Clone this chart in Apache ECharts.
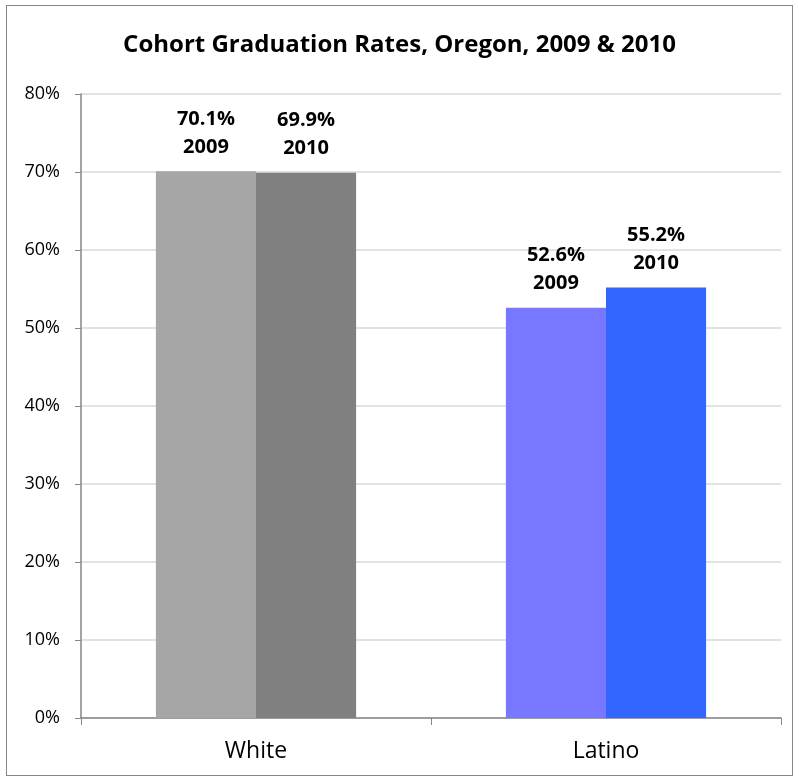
<!DOCTYPE html>
<html><head><meta charset="utf-8">
<script src="https://cdn.jsdelivr.net/npm/echarts@6/dist/echarts.min.js"></script>
<style>
html,body{margin:0;padding:0;background:#fff;}
#frame{position:absolute;left:6px;top:5px;width:787px;height:771px;border:1px solid #868686;box-sizing:border-box;}
#c{position:absolute;left:0;top:0;width:799px;height:782px;}
</style></head>
<body><div id="frame"></div><div id="c"></div>
<script>
const categories = ['White', 'Latino'];
const seriesNames = ['2009', '2010'];
const values2009 = [70.1, 52.6];
const values2010 = [69.9, 55.2];
const colors2009 = ['#A6A6A6', '#7777FF'];
const colors2010 = ['#808080', '#3366FF'];
const titleText = 'Cohort Graduation Rates, Oregon, 2009 & 2010';

const font = '"Open Sans", "Liberation Sans", sans-serif';
const chart = echarts.init(document.getElementById('c'));
function mk(name, vals, cols) {
  return {
    name: name, type: 'bar', barWidth: '28.6%', barGap: '0%',
    data: vals.map((v, i) => ({ value: v, itemStyle: { color: cols[i] } })),
    label: {
      show: true, position: 'top', distance: 10,
      formatter: p => p.value.toFixed(1) + '%\n' + name,
      fontFamily: font, fontWeight: 'bold', fontSize: 20, lineHeight: 28, color: '#000'
    }
  };
}
chart.setOption({
  animation: false,
  title: { text: titleText, left: 'center', top: 28,
    textStyle: { fontFamily: font, fontWeight: 'bold', fontSize: 24, color: '#000' } },
  grid: { left: 81, right: 18, top: 94, bottom: 64, containLabel: false },
  xAxis: {
    type: 'category', data: categories,
    axisLine: { lineStyle: { color: '#868686', width: 1.5 } },
    axisTick: { show: true, length: 7, lineStyle: { color: '#868686' } },
    axisLabel: { fontFamily: font, fontSize: 23, color: '#000', margin: 22 }
  },
  yAxis: {
    type: 'value', min: 0, max: 80, interval: 10,
    axisLine: { show: true, lineStyle: { color: '#868686', width: 1.5 } },
    axisTick: { show: true, length: 6, lineStyle: { color: '#868686' } },
    axisLabel: { formatter: '{value}%', fontFamily: font, fontSize: 18, color: '#000', margin: 21 },
    splitLine: { lineStyle: { color: '#D9D9D9', width: 1.5 } }
  },
  series: [mk(seriesNames[0], values2009, colors2009), mk(seriesNames[1], values2010, colors2010)]
});
</script></body></html>
